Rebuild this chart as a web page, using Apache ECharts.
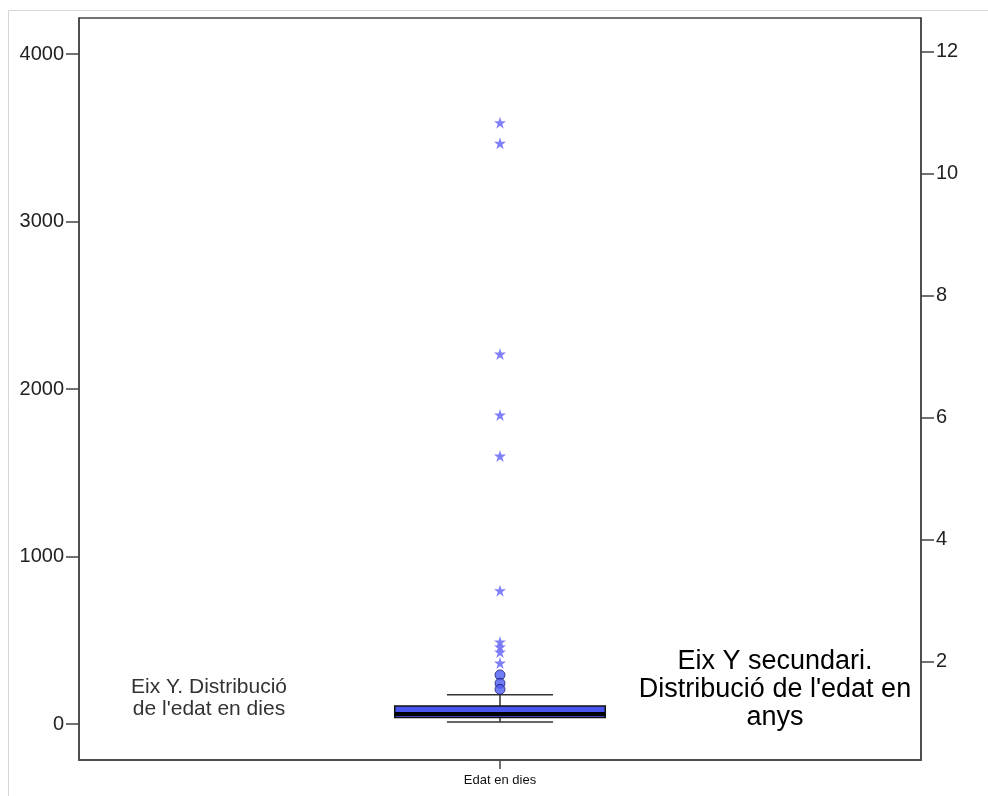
<!DOCTYPE html>
<html>
<head>
<meta charset="utf-8">
<script src="https://cdn.jsdelivr.net/npm/echarts@6/dist/echarts.min.js"></script>
<style>html,body{margin:0;padding:0;background:#fff;}#c{width:988px;height:796px;}</style>
</head>
<body>
<div id="c"></div>
<script>
// ---- data ----
const categories = ['Edat en dies'];
// [lower whisker, Q1, median, Q3, upper whisker] in days
const boxStats = [[12, 39, 60, 107, 175]];
const outlierDays = [293, 243, 207];
const extremeDays = [3590, 3467, 2209, 1845, 1600, 796, 490, 460, 430, 364];
const leftTicks = [0, 1000, 2000, 3000, 4000];
const rightTicks = [2, 4, 6, 8, 10, 12];
const leftRange = [-215, 4215];
const rightRange = [0.393, 12.557];
const leftNote = "Eix Y. Distribució\nde l'edat en dies";
const rightNote = "Eix Y secundari.\nDistribució de l'edat en\nanys";

const FONT = "'Liberation Sans', Arial, sans-serif";
const chart = echarts.init(document.getElementById('c'), null, {renderer: 'canvas'});
const starPath = 'path://M50,0 L61.8,36.2 L100,36.2 L69.1,58.6 L80.9,95 L50,72.6 L19.1,95 L30.9,58.6 L0,36.2 L38.2,36.2 Z';

chart.setOption({
  animation: false,
  backgroundColor: '#fff',
  grid: {left: 79, right: 67, top: 18, bottom: 36, show: true, borderColor: '#444', borderWidth: 1.5, backgroundColor: 'transparent'},
  xAxis: {
    type: 'category', data: categories, boundaryGap: true,
    axisLine: {show: true, onZero: false, lineStyle: {color: '#444', width: 1.5}},
    axisTick: {show: true, length: 9, alignWithLabel: true, lineStyle: {color: '#444', width: 1.5}},
    axisLabel: {fontFamily: FONT, fontSize: 13, color: '#111', margin: 14},
    splitLine: {show: false}
  },
  yAxis: [{
    type: 'value', position: 'left', min: leftRange[0], max: leftRange[1],
    axisLine: {show: true, lineStyle: {color: '#444', width: 1.5}},
    axisTick: {show: true, length: 13, customValues: leftTicks, lineStyle: {color: '#444', width: 1.5}},
    axisLabel: {customValues: leftTicks, formatter: v => String(v), fontFamily: FONT, fontSize: 20, color: '#222', margin: 15},
    splitLine: {show: false}
  }, {
    type: 'value', position: 'right', min: rightRange[0], max: rightRange[1],
    axisLine: {show: true, lineStyle: {color: '#444', width: 1.5}},
    axisTick: {show: true, length: 13, customValues: rightTicks, lineStyle: {color: '#444', width: 1.5}},
    axisLabel: {customValues: rightTicks, formatter: v => String(v), fontFamily: FONT, fontSize: 20, color: '#222', margin: 15},
    splitLine: {show: false}
  }],
  graphic: [
    {type: 'rect', shape: {x: 8.5, y: 10.5, width: 1000, height: 900}, style: {fill: 'none', stroke: '#d8d8d8', lineWidth: 1}, silent: true, z: -10},
    {type: 'text', x: 209, y: 698, style: {text: leftNote, font: '21px ' + FONT, fill: '#333', align: 'center', verticalAlign: 'middle', lineHeight: 22}, z: 10},
    {type: 'text', x: 775, y: 690, style: {text: rightNote, font: '27px ' + FONT, fill: '#000', align: 'center', verticalAlign: 'middle', lineHeight: 28}, z: 10}
  ],
  series: [{
    type: 'custom', yAxisIndex: 0,
    data: boxStats.map((s, i) => [i].concat(s)),
    encode: {x: 0, y: [1, 2, 3, 4, 5]},
    renderItem: function (params, api) {
      const x = api.value(0);
      const band = api.size([1, 0])[0];
      const bw = band * 0.25, ww = band * 0.126;
      const pLo = api.coord([x, api.value(1)]);
      const pQ1 = api.coord([x, api.value(2)]);
      const pMed = api.coord([x, api.value(3)]);
      const pQ3 = api.coord([x, api.value(4)]);
      const pHi = api.coord([x, api.value(5)]);
      const cx = pLo[0];
      const ls = {stroke: '#333', lineWidth: 1.5};
      return {type: 'group', children: [
        {type: 'line', shape: {x1: cx, y1: pHi[1], x2: cx, y2: pQ3[1]}, style: ls},
        {type: 'line', shape: {x1: cx, y1: pQ1[1], x2: cx, y2: pLo[1]}, style: ls},
        {type: 'line', shape: {x1: cx - ww / 2, y1: pHi[1], x2: cx + ww / 2, y2: pHi[1]}, style: ls},
        {type: 'line', shape: {x1: cx - ww / 2, y1: pLo[1], x2: cx + ww / 2, y2: pLo[1]}, style: ls},
        {type: 'rect', shape: {x: cx - bw / 2, y: pQ3[1], width: bw, height: pQ1[1] - pQ3[1]}, style: {fill: '#4b55f0', stroke: '#111', lineWidth: 1.5}},
        {type: 'line', shape: {x1: cx - bw / 2, y1: pMed[1], x2: cx + bw / 2, y2: pMed[1]}, style: {stroke: '#000', lineWidth: 4}}
      ]};
    },
    z: 2
  }, {
    type: 'scatter', yAxisIndex: 0,
    data: outlierDays.map(v => [0, v]),
    symbol: 'circle', symbolSize: 10,
    itemStyle: {color: '#4d5cf2', borderColor: '#1c1c66', borderWidth: 1},
    z: 3
  }, {
    type: 'scatter', yAxisIndex: 0,
    data: extremeDays.map(v => [0, v]),
    symbol: starPath, symbolSize: 12,
    itemStyle: {color: '#7272f7', opacity: 0.9},
    z: 3
  }]
});
</script>
</body>
</html>
